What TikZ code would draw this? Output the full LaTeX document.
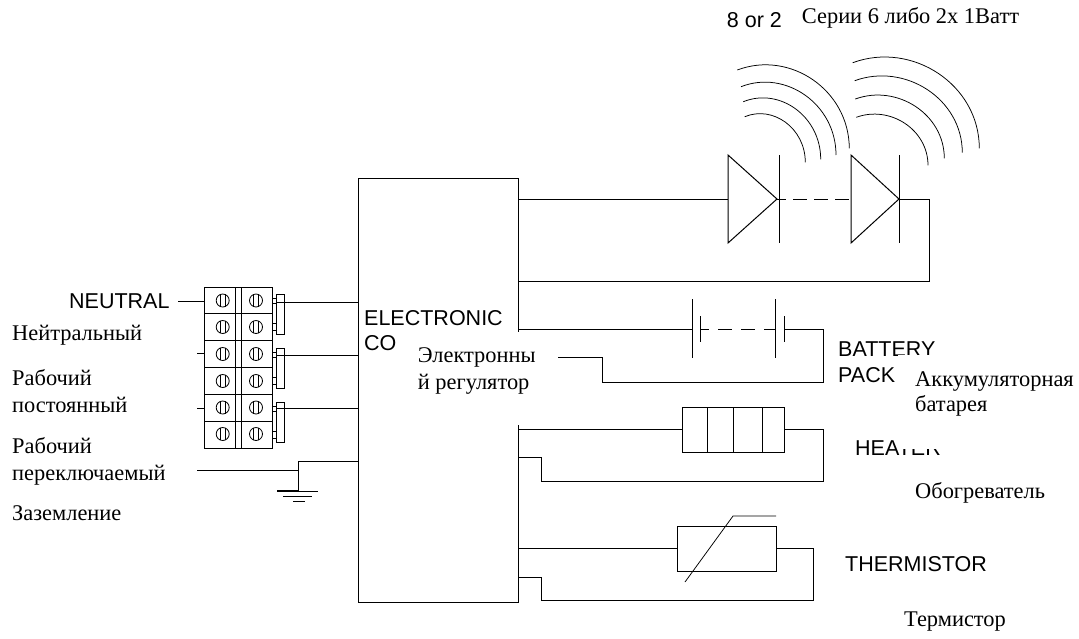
\documentclass[tikz,border=0pt]{standalone}
\usepackage{fontspec}
\setmainfont{Liberation Serif}
\setsansfont{Liberation Sans}
\tikzset{
	wire/.style={line width=1pt},
	wave/.style={line width=0.75pt},
	ru/.style={inner sep=0, anchor=base west, font=\fontsize{22.4}{24}\selectfont},
	en/.style={inner sep=0, anchor=base west, font=\sffamily\fontsize{21.5}{25}\selectfont},
	part/.style={draw, line width=1pt, inner sep=0, outer sep=0},
	screw/.style={circle, draw, line width=0.8pt, inner sep=0, minimum size=13},
}

\begin{document}
\begin{tikzpicture}[x=1pt, y=-1pt]
	\useasboundingbox (0,0) rectangle (1079,638);
	\fill[white] (0,0) rectangle (1079,638);

	% controller and the labels that get masked
	\node[part, minimum width=160, minimum height=424] (ctrl) at (438.5,390) {};
	\node[en] (elec) at (364,325) {ELECTRONIC};
	\node[en] (co) at (364,350) {CO};
	\node[en] (bat) at (838,356) {BATTERY};
	\node[en] (pack) at (838,382) {PACK};
	\node[en] (heater) at (855,455) {HEATER};
	\fill[white] (398,332) rectangle (558,425);
	\fill[white] (898,355) rectangle (1079,449);

	% terminal block
	\node[part, minimum width=68.5, minimum height=161] (block) at (238.5,367.5) {};
	\draw[wire] (235.7,287) -- (235.7,448);
	\draw[wire] (241,287) -- (241,448);
	\foreach \y in {313.7,340.5,367.2,394,421}
		\draw[wire] (204,\y) -- (272.7,\y);
	\foreach \y in {300.5,327,354,381,407.5,434}
		\foreach \x in {222.7,256} {
			\node[screw] (s) at (\x,\y) {};
			\draw[line width=0.8pt] (\x-2.3,\y-6.2) -- (\x-2.3,\y+6.2);
			\draw[line width=0.8pt] (\x+2.3,\y-6.2) -- (\x+2.3,\y+6.2);
		}

	% links on the right of the block
	\foreach \n/\y in {a/314,b/368,c/422} {
		\node[part, minimum width=8.3, minimum height=40] (link\n) at (280.2,\y) {};
		\draw[wire] (block.east |- 0,\y-16) -- (link\n.west |- 0,\y-16);
		\draw[wire] (block.east |- 0,\y-11) -- (link\n.west |- 0,\y-11);
		\draw[wire] (block.east |- 0,\y+9) -- (link\n.west |- 0,\y+9);
		\draw[wire] (block.east |- 0,\y+16) -- (link\n.west |- 0,\y+16);
	}

	% mains side
	\coordinate (nl) at (178,301);
	\coordinate (ll) at (197,353);
	\coordinate (lp) at (197,408);
	\draw[wire] (nl) -- (block.west |- nl);
	\draw[wire] (ll) -- (block.west |- ll);
	\draw[wire] (lp) -- (block.west |- lp);
	\coordinate (na) at (276,302);
	\coordinate (nb) at (276,355);
	\coordinate (nc) at (276,408);
	\draw[wire] (na) -- (ctrl.west |- na);
	\draw[wire] (nb) -- (ctrl.west |- nb);
	\draw[wire] (nc) -- (ctrl.west |- nc);

	% earth
	\coordinate (ea) at (197,470);
	\coordinate (eb) at (298,470);
	\coordinate (ec) at (298,491);
	\coordinate (ed) at (298,461);
	\draw[wire] (ea) -- (eb) -- (ec);
	\draw[wire] (eb) -- (ed) -- (ctrl.west |- ed);
	\draw[line width=1.5pt] (277,491) -- (ec);
	\draw[wire] (ec) -- (318,491);
	\draw[wire] (283,496) -- (312,496);
	\draw[wire] (293,501) -- (305,501);

	% leds
	\coordinate (da) at (728,199);
	\coordinate (ka) at (777,199);
	\coordinate (db) at (851,199);
	\coordinate (kb) at (899,199);
	\draw[wire] (da |- 0,155) -- (da |- 0,243) -- (ka) -- cycle;
	\draw[wire] (db |- 0,155) -- (db |- 0,243) -- (kb) -- cycle;
	\draw[wire] (779,155) -- (779,243);
	\draw[wire] (kb |- 0,155) -- (kb |- 0,243);
	\draw[wire] (ctrl.east |- da) -- (da);
	\draw[wire, dash pattern=on 14 off 7, dash phase=5] (ka) -- (db);
	\coordinate (ra) at (929,281);
	\coordinate (rb) at (519,281);
	\draw[wire] (kb) -| (ra) -- (rb);

	\draw[wave] (737.3,70) .. controls (790,50) and (849,90) .. (849.3,148.3);
	\draw[wave] (741,86.7) .. controls (785.6,69.2) and (836,104.2) .. (836,155);
	\draw[wave] (743.3,101.7) .. controls (779.7,87) and (820.7,116.4) .. (820.7,159.3);
	\draw[wave] (744.7,116.7) .. controls (773.2,105) and (805.3,128.4) .. (805.3,162.3);
	\draw[wave] (852.7,62.7) .. controls (912.2,40.8) and (979.3,84.6) .. (979.3,148.3);
	\draw[wave] (854.7,80.7) .. controls (905.3,62.3) and (962.3,99.1) .. (962.3,152.7);
	\draw[wave] (855.3,99) .. controls (897.1,83.8) and (944.3,114.2) .. (944.3,158.3);
	\draw[wave] (856.3,117.3) .. controls (890,105) and (928,129.6) .. (928,165.3);

	% battery
	\coordinate (ba) at (692,329);
	\coordinate (bb) at (700,329);
	\coordinate (bc) at (775,329);
	\coordinate (bd) at (784,329);
	\draw[wire] (ctrl.east |- ba) -- (ba);
	\draw[wire] (ba |- 0,299) -- (ba |- 0,358);
	\draw[wire] (bb |- 0,316) -- (bb |- 0,342);
	\draw[wire] (bc |- 0,299) -- (bc |- 0,358);
	\draw[wire] (bd |- 0,316) -- (bd |- 0,342);
	\draw[wire, dash pattern=on 14 off 9, dash phase=5] (bb) -- (bc);
	\coordinate (be) at (823.6,382);
	\coordinate (bf) at (602.7,357);
	\coordinate (bg) at (558,357);
	\draw[wire] (bd) -| (be) -| (bf) -- (bg);

	% heater
	\node[part, minimum width=102, minimum height=45] (heat) at (733,429.5) {};
	\foreach \x in {707,733,762}
		\draw[wire] (\x,407) -- (\x,452);
	\coordinate (ha) at (823.6,481);
	\coordinate (hb) at (541,481);
	\coordinate (hc) at (519,457);
	\draw[wire] (ctrl.east |- heat.west) -- (heat.west);
	\draw[wire] (heat.east) -| (ha) -- (hb) |- (hc);

	% thermistor
	\node[part, minimum width=99, minimum height=45] (therm) at (726.5,548.5) {};
	\coordinate (ta) at (813.7,600);
	\coordinate (tb) at (541,600);
	\coordinate (tc) at (519,577);
	\draw[wire] (ctrl.east |- therm.west) -- (therm.west);
	\draw[wire] (therm.east) -| (ta) -- (tb) |- (tc);
	\draw[wave] (685,582) -- (733,516) -- (776,516);

	% labels
	\node[en] (neutral) at (69,308) {NEUTRAL};
	\node[en] (count) at (726.7,27) {8 or 2};
	\node[en] (thermen) at (845,571.7) {THERMISTOR};
	\node[ru] (series) at (801.7,23) {Серии 6 либо 2х 1Ватт};
	\node[ru] (neutru) at (12,340) {Нейтральный};
	\node[ru] (runa) at (12,385) {Рабочий};
	\node[ru] (runb) at (12,412) {постоянный};
	\node[ru] (swa) at (12,453) {Рабочий};
	\node[ru] (swb) at (12,480) {переключаемый};
	\node[ru] (earth) at (12,520) {Заземление};
	\node[ru] (reg) at (417.7,362.7) {Электронны};
	\node[ru] (regb) at (417.7,389) {й регулятор};
	\node[ru] (accu) at (915,386) {Аккумуляторная};
	\node[ru] (accub) at (915,411.7) {батарея};
	\node[ru] (heatru) at (915,498) {Обогреватель};
	\node[ru] (thermru) at (904,626) {Термистор};
\end{tikzpicture}
\end{document}
